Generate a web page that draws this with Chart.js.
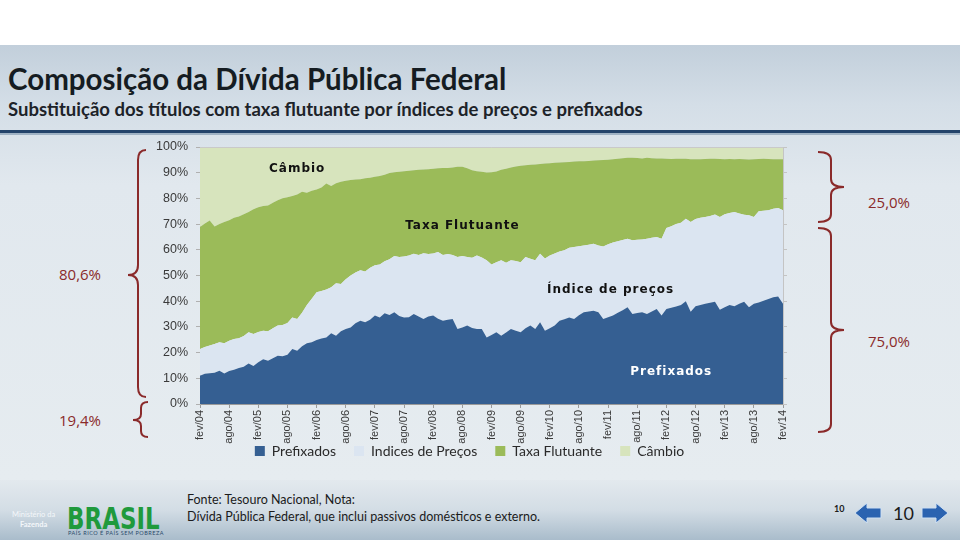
<!DOCTYPE html>
<html>
<head>
<meta charset="utf-8">
<script src="https://cdn.jsdelivr.net/npm/chart.js@4.4.1/dist/chart.umd.min.js"></script>
<style>
  body { margin: 0; width: 960px; height: 540px; overflow: hidden; position: relative; background: #fff; font-family: Lato, sans-serif; }
  .slide { position: absolute; left: 0; top: 45px; width: 960px; height: 435px;
    background: linear-gradient(to bottom, #c2cfdb 0px, #d4dee7 60px, #e1e8ee 140px, #e6ecf0 435px); }
  .rule { position: absolute; left: 0; top: 130px; width: 960px; height: 3px; background: #23436a; }
  .rule2 { position: absolute; left: 0; top: 133px; width: 960px; height: 2px; background: #9fb2c4; }
  h1 { position: absolute; left: 8px; top: 61px; margin: 0; font-size: 29.5px; font-weight: 700; color: #151c22; white-space: nowrap; }
  h2 { position: absolute; left: 8px; top: 98px; margin: 0; font-size: 18.5px; font-weight: 700; color: #1d2329; white-space: nowrap; }
  .pct { position: absolute; font-size: 15px; color: #8a2a2a; font-family: "Open Sans", sans-serif; }
  .footer { position: absolute; left: 0; top: 480px; width: 960px; height: 60px;
    background: linear-gradient(to bottom, #e3e9ee 0px, #d3dde5 30px, #a9bccb 60px); }
  .fonte { position: absolute; left: 187px; font-size: 12.5px; color: #1b1b1b; }
  .brasil { position: absolute; left: 67px; top: 500px; font-size: 31px; font-weight: 900; color: #1f9a3c;
    font-family: "DejaVu Sans", sans-serif; transform: scaleX(0.74); transform-origin: left top; }
  .lema { position: absolute; left: 68px; top: 530px; font-size: 5.5px; color: #2a4a6a; letter-spacing: 0.5px; }
  .minis { position: absolute; left: 12px; top: 510px; font-size: 7.5px; color: #f4f7fa; text-align: center; line-height: 10px; }
  .pg { position: absolute; color: #1b1b1b; }
  #wrap { position: absolute; left: 0; top: 0; width: 960px; height: 540px; }
</style>
</head>
<body>
<div class="slide"></div>
<div class="rule"></div>
<div class="rule2"></div>
<h1>Composição da Dívida Pública Federal</h1>
<h2>Substituição dos títulos com taxa flutuante por índices de preços e prefixados</h2>

<div class="pct" style="left:59px;top:264px;">80,6%</div>
<div class="pct" style="left:59px;top:410px;">19,4%</div>
<div class="pct" style="left:868px;top:192px;">25,0%</div>
<div class="pct" style="left:868px;top:331px;">75,0%</div>

<svg style="position:absolute;left:0;top:0" width="960" height="540">
  <g fill="none" stroke="#8a2a2a" stroke-width="2">
    <path d="M146 150 Q138 150 138 160 L138 265 Q138 275 128 275 Q138 275 138 285 L138 387 Q138 397 146 397"/>
    <path d="M148 402 Q141 402 141 408 L141 414 Q141 420 133 420 Q141 420 141 426 L141 431 Q141 437 148 437"/>
    <path d="M818 152 Q831 152 831 160 L831 179 Q831 187 844 187 Q831 187 831 195 L831 214 Q831 222 818 222"/>
    <path d="M818 228 Q831 228 831 236 L831 322 Q831 330 844 330 Q831 330 831 338 L831 424 Q831 432 818 432"/>
  </g>
</svg>

<div class="footer"></div>
<div class="minis">Ministério da<br><b>Fazenda</b></div>
<div class="brasil">BRASIL</div>
<div class="lema">PAÍS RICO É PAÍS SEM POBREZA</div>
<div class="fonte" style="top:492px;">Fonte: Tesouro Nacional, Nota:</div>
<div class="fonte" style="top:509px;">Dívida Pública Federal, que inclui passivos domésticos e externo.</div>
<div class="pg" style="left:834px;top:503px;font-size:9px;font-weight:700;">10</div>
<div class="pg" style="left:893px;top:502px;font-size:18px;">10</div>
<svg style="position:absolute;left:0;top:0" width="960" height="540">
  <path d="M855 513 L867 503 L867 508 L881 508 L881 518 L867 518 L867 523 Z" fill="#2b63b0" stroke="#cfe0f2" stroke-width="1"/>
  <path d="M948 513 L936 503 L936 508 L922 508 L922 518 L936 518 L936 523 Z" fill="#2b63b0" stroke="#cfe0f2" stroke-width="1"/>
</svg>

<div id="wrap"><canvas id="chart" width="960" height="540"></canvas></div>

<script>
// monthly, fev/04 .. fev/14 (% of DPF)
const prefixados = [
  11.0, 11.8, 12.0, 12.2, 12.9, 11.9, 12.8, 13.3, 14.0, 14.5, 15.8, 14.8,
  16.2, 17.4, 16.8, 17.8, 18.8, 18.6, 19.2, 21.4, 20.7, 22.5, 23.6, 24.0,
  24.9, 25.5, 25.9, 27.5, 26.6, 28.3, 29.2, 29.8, 31.4, 32.4, 31.8, 32.8,
  34.4, 33.7, 35.3, 34.6, 35.7, 34.2, 33.7, 33.8, 35.0, 34.0, 33.1, 34.0,
  34.4, 33.2, 32.4, 32.8, 33.1, 29.2, 29.8, 30.5, 29.6, 29.2, 29.2, 25.9,
  26.8, 27.9, 26.6, 27.8, 29.2, 28.5, 27.9, 29.5, 30.5, 29.2, 31.8, 28.5,
  29.5, 30.5, 32.4, 33.0, 33.7, 33.1, 34.5, 35.7, 36.0, 36.3, 35.7, 33.1,
  33.8, 34.4, 35.5, 36.5, 37.6, 35.0, 35.4, 35.7, 35.0, 36.0, 37.0, 34.4,
  37.0, 37.5, 37.9, 38.5, 40.0, 35.9, 38.0, 38.5, 39.0, 39.4, 39.8, 36.7,
  37.6, 38.5, 38.0, 39.0, 39.8, 37.6, 39.0, 39.5, 40.2, 40.9, 41.5, 41.8,
  39.0
];
const indicesPrecos = [
  10.4, 10.4, 10.8, 11.1, 11.1, 11.7, 11.8, 12.0, 11.6, 12.0, 12.1, 12.4,
  11.8, 11.1, 11.5, 11.7, 11.7, 12.1, 12.3, 12.3, 12.4, 13.0, 14.9, 17.0,
  18.6, 18.5, 18.7, 17.9, 20.4, 18.4, 19.3, 20.2, 19.8, 19.6, 19.8, 20.2,
  19.6, 20.6, 20.2, 21.7, 21.9, 23.0, 23.7, 24.0, 23.5, 24.0, 25.6, 24.4,
  24.2, 25.9, 25.6, 25.6, 24.9, 28.0, 27.8, 26.7, 27.3, 28.6, 27.8, 30.0,
  27.5, 27.3, 29.3, 27.2, 26.7, 27.1, 27.3, 27.7, 26.0, 26.7, 26.7, 28.1,
  28.3, 28.1, 26.9, 26.8, 27.1, 28.0, 26.9, 26.0, 26.0, 26.1, 26.0, 28.2,
  28.4, 28.4, 27.8, 27.3, 26.7, 28.7, 28.5, 28.3, 29.3, 28.7, 28.0, 29.9,
  31.5, 31.7, 32.1, 32.0, 32.1, 34.9, 34.0, 34.0, 33.8, 33.8, 33.9, 36.1,
  36.2, 35.8, 36.7, 35.1, 33.8, 35.8, 33.8, 35.5, 35.0, 34.5, 34.5, 34.5,
  36.4
];
const taxaFlutuante = [
  47.5, 48.0, 48.6, 45.8, 46.0, 47.2, 46.9, 47.2, 47.4, 47.3, 46.8, 48.6,
  48.6, 48.5, 48.9, 48.8, 48.8, 49.4, 48.9, 47.2, 48.4, 47.1, 43.7, 42.0,
  40.0, 40.2, 41.2, 39.4, 38.9, 39.8, 38.4, 37.2, 36.2, 35.5, 36.2, 35.0,
  34.4, 34.4, 33.7, 33.6, 32.6, 33.2, 33.2, 33.0, 32.5, 33.1, 32.5, 32.9,
  32.9, 32.6, 33.8, 33.4, 34.0, 35.1, 34.7, 34.5, 34.1, 32.8, 33.4, 34.2,
  35.9, 35.3, 35.2, 36.5, 36.1, 36.8, 37.5, 35.7, 36.6, 37.3, 34.9, 37.0,
  35.9, 35.3, 34.7, 34.3, 33.4, 33.3, 33.1, 32.8, 32.6, 32.3, 33.1, 33.6,
  32.8, 32.4, 32.1, 31.8, 31.5, 32.1, 31.8, 31.5, 31.5, 30.9, 30.5, 31.2,
  26.9, 26.1, 25.4, 24.9, 23.3, 24.4, 23.2, 22.7, 22.5, 22.2, 21.7, 22.5,
  21.4, 21.0, 20.5, 21.2, 21.6, 21.7, 22.4, 20.3, 20.2, 19.9, 19.2, 18.9,
  19.8
];
const cambio = [
  31.1, 29.8, 28.6, 30.9, 30.0, 29.2, 28.5, 27.5, 27.0, 26.2, 25.3, 24.2,
  23.4, 23.0, 22.8, 21.7, 20.7, 19.9, 19.6, 19.1, 18.5, 17.4, 17.8, 17.0,
  16.5, 15.8, 14.2, 15.2, 14.1, 13.5, 13.1, 12.8, 12.6, 12.5, 12.2, 12.0,
  11.6, 11.3, 10.8, 10.1, 9.8, 9.6, 9.4, 9.2, 9.0, 8.9, 8.8, 8.7,
  8.5, 8.3, 8.2, 8.2, 8.0, 7.7, 7.7, 8.3, 9.0, 9.4, 9.6, 9.9,
  9.8, 9.5, 8.9, 8.5, 8.0, 7.6, 7.3, 7.1, 6.9, 6.8, 6.6, 6.4,
  6.3, 6.1, 6.0, 5.9, 5.8, 5.6, 5.5, 5.5, 5.4, 5.3, 5.2, 5.1,
  5.0, 4.8, 4.6, 4.4, 4.2, 4.2, 4.3, 4.5, 4.2, 4.4, 4.5, 4.5,
  4.6, 4.7, 4.6, 4.6, 4.6, 4.8, 4.8, 4.8, 4.7, 4.6, 4.6, 4.7,
  4.8, 4.7, 4.8, 4.7, 4.8, 4.9, 4.8, 4.7, 4.6, 4.7, 4.8, 4.8,
  4.8
];

const meses = ["jan", "fev", "mar", "abr", "mai", "jun", "jul", "ago", "set", "out", "nov", "dez"];
const labels = [];
for (let i = 0; i < prefixados.length; i++) {
  const m = (1 + i) % 12;
  const y = 4 + Math.floor((1 + i) / 12);
  labels.push(meses[m] + "/" + String(y).padStart(2, "0"));
}

// text written inside the areas: [text, category index, value, colour]
const areaNotes = [
  ["Câmbio", 20, 91.5, "#111"],
  ["Taxa Flutuante", 54, 69.5, "#111"],
  ["Índice de preços", 84.5, 44.5, "#111"],
  ["Prefixados", 97, 12.5, "#fff"],
];

const notesPlugin = {
  id: "notes",
  afterLayout(chart) {
    // pull the legend up under the rotated month labels
    chart.legend.top -= 18;
    chart.legend.bottom -= 18;
  },
  afterDatasetsDraw(chart) {
    const ctx = chart.ctx;
    const x = chart.scales.x, y = chart.scales.y;
    const a = chart.chartArea;
    ctx.save();
    ctx.strokeStyle = "#c9c9c9";
    ctx.lineWidth = 1;
    ctx.beginPath();
    ctx.moveTo(a.left, a.top + 0.5);
    ctx.lineTo(a.right, a.top + 0.5);
    ctx.stroke();
    ctx.font = "bold 12px 'DejaVu Sans'";
    ctx.letterSpacing = "1px";
    ctx.textAlign = "center";
    ctx.textBaseline = "middle";
    areaNotes.forEach(([t, i, v, c]) => {
      ctx.fillStyle = c;
      ctx.fillText(t, x.getPixelForValue(i), y.getPixelForValue(v));
    });
    ctx.restore();
  },
};

new Chart(document.getElementById("chart"), {
  type: "line",
  data: {
    labels: labels,
    datasets: [
      { label: "Prefixados", data: prefixados, backgroundColor: "#355f92", fill: "origin" },
      { label: "Indices de Preços", data: indicesPrecos, backgroundColor: "#dbe5f1", fill: "-1" },
      { label: "Taxa Flutuante", data: taxaFlutuante, backgroundColor: "#9bbb59", fill: "-1" },
      { label: "Câmbio", data: cambio, backgroundColor: "#d7e4bd", fill: "-1" },
    ],
  },
  options: {
    responsive: false,
    animation: false,
    elements: { point: { radius: 0 }, line: { borderWidth: 0, tension: 0 } },
    layout: { padding: { left: 150, top: 147, right: 171, bottom: 54 } },
    scales: {
      x: {
        grid: { drawOnChartArea: false, tickLength: 4, color: "#9a9a9a" },
        border: { color: "#9a9a9a" },
        ticks: {
          autoSkip: false, maxRotation: 90, minRotation: 90, padding: 2,
          color: "#3a3a3a", font: { family: "'Liberation Sans'", size: 11 },
          callback: function (v, i) { return i % 6 === 0 ? labels[i] : null; },
        },
        afterFit(s) { s.height = 40; },
      },
      y: {
        stacked: true, min: 0, max: 100,
        grid: { drawOnChartArea: false, tickLength: 4, color: "#b0b0b0" },
        border: { color: "#b0b0b0" },
        ticks: {
          stepSize: 10, padding: 8, color: "#3a3a3a",
          font: { family: "'Liberation Sans'", size: 12.5 },
          callback: (v) => v + "%",
        },
        afterFit(s) { s.width = 50; },
      },
      y2: {
        position: "right", min: 0, max: 100,
        grid: { drawOnChartArea: false, tickLength: 4, color: "#c4c4c4" },
        border: { color: "#c4c4c4" },
        ticks: { stepSize: 10, display: false },
        afterFit(s) { s.width = 6; },
      },
    },
    plugins: {
      legend: {
        position: "bottom",
        labels: {
          boxWidth: 10, boxHeight: 10, padding: 18, color: "#2a2a2a",
          font: { family: "Lato", size: 14 },
        },
      },
      tooltip: { enabled: false },
    },
  },
  plugins: [notesPlugin],
});
</script>
</body>
</html>
